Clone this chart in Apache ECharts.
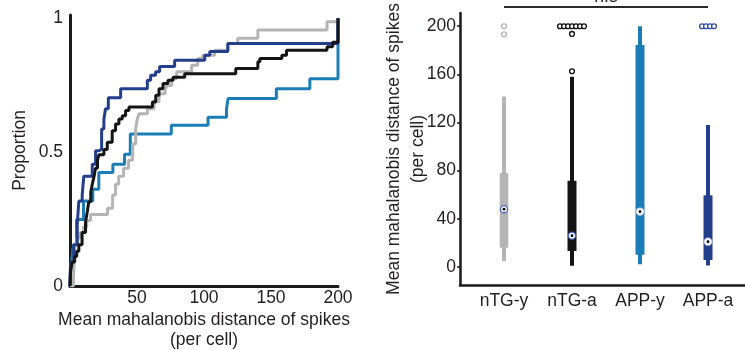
<!DOCTYPE html>
<html>
<head>
<meta charset="utf-8">
<script src="https://cdn.jsdelivr.net/npm/echarts@6/dist/echarts.min.js"></script>
<style>html,body{margin:0;padding:0;background:#fff;}#c{width:745px;height:350px;}</style>
</head>
<body>
<div id="c"></div>
<script>
// ---------- Left panel: cumulative distributions ----------
const nTGy_x = [0,2.6,3,3.5,5,7.5,10,12.5,15.3,28,31.8,34,36.3,40,43.7,46.7,49,50.2,51.5,57.7,62.7,66.4,67,70.9,72.1,75.9,79.6,90.8,95.3,99.1,108,117.8,125.2,140.2,191.8,200];
const nTGy_p = [0,0.03,0.08,0.154,0.18,0.2,0.22,0.245,0.267,0.29,0.34,0.38,0.41,0.44,0.47,0.53,0.586,0.624,0.643,0.662,0.688,0.7,0.718,0.73,0.749,0.774,0.8,0.824,0.85,0.862,0.88,0.906,0.925,0.956,0.987,1];
const nTGa_x = [0,0.3,1.6,3.5,5,6.6,9,11.6,13,14,15.5,16.6,18,19,20.5,21.5,25.3,27.8,31.5,34,36.5,39,41.5,44,61.5,64,66.4,69.4,73.1,76.9,85.6,123.7,140.2,141.7,158.1,161.6,191.8,196,200];
const nTGa_p = [0,0.05,0.09,0.11,0.13,0.154,0.2,0.24,0.28,0.315,0.35,0.38,0.41,0.44,0.47,0.49,0.51,0.537,0.58,0.605,0.624,0.636,0.655,0.668,0.687,0.712,0.737,0.756,0.768,0.78,0.793,0.812,0.837,0.85,0.862,0.88,0.893,0.91,1];
const APPy_x = [0,0.4,1.2,2.6,4.9,10.1,17,21.5,32,40.7,45,75.6,103,116.8,118,154,179,200];
const APPy_p = [0,0.05,0.09,0.154,0.248,0.317,0.361,0.424,0.455,0.492,0.568,0.6,0.63,0.662,0.7,0.737,0.774,1];
const APPa_x = [0,0.4,2.8,5.4,6.6,9.1,10.3,16.6,19.1,21.5,23.6,25.3,26.5,28.6,37.8,57.7,60.2,63.9,66.9,78.1,100.6,104.3,117.8,200];
const APPa_p = [0,0.09,0.154,0.23,0.317,0.34,0.41,0.455,0.505,0.51,0.586,0.624,0.662,0.703,0.737,0.768,0.787,0.8,0.82,0.843,0.862,0.876,0.906,1];
const leftXTicks = [50,100,150,200];
const leftYTicks = [0,0.5,1];

// ---------- Right panel: box plots ----------
const categories = ['nTG-y','nTG-a','APP-y','APP-a'];
const whiskerLow  = [5, 1, 2.2, 1.1];
const q1          = [16, 13.3, 10.2, 5.8];
const median      = [48, 26, 46, 21];
const q3          = [78, 71.6, 184.5, 59.5];
const whiskerHigh = [141.6, 158, 200, 118];
const outliers_nTGy = [200, 193.3];
const outliers_nTGa = [200,200,200,200,200,200,200, 193.6, 162.6];
const outliers_APPy = [];
const outliers_APPa = [200,200,200,200];
const rightYTicks = [0,40,80,120,160,200];
const sigLabel = 'n.s';

const colors = ['#b4b4b4', '#141414', '#1a7db5', '#233f8c'];
const outlierColors = ['#b4b4b4', '#141414', '#1a7db5', '#3550a8'];
const ringColors = ['#4c68c4', '#4c68c4', '#d2d5ea', '#d2d5ea'];
const FONT = 'Liberation Sans, Arial, sans-serif';
const FS = 17.5;
const TXT = '#231f20';
const AX = '#1a1a1a';

const zip = (xs, ps) => xs.map((x, i) => [x, ps[i]]);

const boxData = categories.map((c, i) => [i, whiskerLow[i], q1[i], median[i], q3[i], whiskerHigh[i]]);
const outlierGroups = [outliers_nTGy, outliers_nTGa, outliers_APPy, outliers_APPa];
const outlierData = [];
outlierGroups.forEach((arr, gi) => {
  const counts = {};
  arr.forEach(v => { counts[v] = (counts[v] || 0) + 1; });
  const seen = {};
  arr.forEach(v => {
    const rank = seen[v] || 0; seen[v] = rank + 1;
    outlierData.push([gi, v, rank, counts[v]]);
  });
});

const chart = echarts.init(document.getElementById('c'), null, {renderer: 'canvas'});

const lineSeries = (name, xs, ps, color) => ({
  name, type: 'line', xAxisIndex: 0, yAxisIndex: 0, step: 'end', showSymbol: false, symbol: 'none',
  data: zip(xs, ps), lineStyle: {color, width: 3}, itemStyle: {color}, animation: false
});

const option = {
  animation: false,
  textStyle: {fontFamily: FONT},
  grid: [
    {left: 70, top: 15, width: 268, height: 271, outerBoundsMode: 'none', containLabel: false},
    {left: 460, top: 13, width: 285, height: 272, outerBoundsMode: 'none', containLabel: false}
  ],
  xAxis: [
    {
      gridIndex: 0, type: 'value', min: 0, max: 200,
      axisLine: {show: true, onZero: false, lineStyle: {color: AX, width: 3}},
      axisTick: {show: false}, splitLine: {show: false},
      axisLabel: {customValues: leftXTicks, color: TXT, fontSize: FS, fontFamily: FONT, margin: 3},
      name: 'Mean mahalanobis distance of spikes\n(per cell)', nameLocation: 'middle', nameGap: 24,
      nameMoveOverlap: false,
      nameTextStyle: {color: TXT, fontSize: FS, fontFamily: FONT, lineHeight: 20}
    },
    {
      gridIndex: 1, type: 'value', min: -0.647, max: 3.544,
      axisLine: {show: true, onZero: false, lineStyle: {color: AX, width: 2.5}},
      axisTick: {show: false}, splitLine: {show: false},
      axisLabel: {customValues: [0,1,2,3], formatter: v => categories[Math.round(v)] || '', color: TXT, fontSize: FS, fontFamily: FONT, margin: 7}
    }
  ],
  yAxis: [
    {
      gridIndex: 0, type: 'value', min: 0, max: 1.012,
      axisLine: {show: true, onZero: false, lineStyle: {color: AX, width: 3}},
      axisTick: {show: false}, splitLine: {show: false},
      axisLabel: {customValues: leftYTicks, formatter: v => String(v), color: TXT, fontSize: FS, fontFamily: FONT, margin: 7},
      name: 'Proportion', nameLocation: 'middle', nameGap: 41, nameMoveOverlap: false,
      nameTextStyle: {color: TXT, fontSize: FS, fontFamily: FONT}
    },
    {
      gridIndex: 1, type: 'value', min: -15, max: 211,
      axisLine: {show: true, onZero: false, lineStyle: {color: AX, width: 2.5}},
      axisTick: {show: true, customValues: rightYTicks, length: 3, lineStyle: {color: AX, width: 1.5}},
      splitLine: {show: false},
      axisLabel: {customValues: rightYTicks, color: TXT, fontSize: FS, fontFamily: FONT, margin: 4},
      name: 'Mean mahalanobis distance of spikes\n(per cell)', nameLocation: 'middle', nameGap: 30,
      nameMoveOverlap: false,
      nameTextStyle: {color: TXT, fontSize: FS, fontFamily: FONT, lineHeight: 24}
    }
  ],
  series: [
    lineSeries('APP-y', APPy_x, APPy_p, colors[2]),
    lineSeries('nTG-y', nTGy_x, nTGy_p, colors[0]),
    lineSeries('APP-a', APPa_x, APPa_p, colors[3]),
    lineSeries('nTG-a', nTGa_x, nTGa_p, colors[1]),
    {
      type: 'custom', xAxisIndex: 1, yAxisIndex: 1, data: boxData, clip: false,
      renderItem(params, api) {
        const i = api.value(0);
        const lo = api.coord([i, api.value(1)]);
        const b1 = api.coord([i, api.value(2)]);
        const md = api.coord([i, api.value(3)]);
        const b3 = api.coord([i, api.value(4)]);
        const hi = api.coord([i, api.value(5)]);
        const c = colors[params.dataIndex];
        const bw = params.dataIndex === 0 ? 8.5 : 9;
        return {type: 'group', children: [
          {type: 'rect', shape: {x: lo[0] - 2, y: hi[1], width: 4, height: lo[1] - hi[1]}, style: {fill: c}},
          {type: 'rect', shape: {x: lo[0] - bw / 2, y: b3[1], width: bw, height: b1[1] - b3[1]}, style: {fill: c}},
          {type: 'circle', shape: {cx: md[0], cy: md[1], r: 4.2}, style: {fill: ringColors[params.dataIndex]}},
          {type: 'circle', shape: {cx: md[0], cy: md[1], r: 2.9}, style: {fill: '#ffffff'}},
          {type: 'circle', shape: {cx: md[0], cy: md[1], r: 1.4}, style: {fill: '#000000'}}
        ]};
      }
    },
    {
      type: 'custom', xAxisIndex: 1, yAxisIndex: 1, data: outlierData, clip: false,
      renderItem(params, api) {
        const g = api.value(0);
        const p = api.coord([g, api.value(1)]);
        const rank = api.value(2), count = api.value(3);
        const dx = (rank - (count - 1) / 2) * 4;
        return {type: 'circle', shape: {cx: p[0] + dx, cy: p[1], r: 2.4},
          style: {fill: '#ffffff', stroke: outlierColors[g], lineWidth: 1.4}};
      }
    }
  ]
};
chart.setOption(option);

// significance bracket across the four groups, positioned through the axis scales
const a = chart.convertToPixel({xAxisIndex: 1, yAxisIndex: 1}, [0, 216]);
const b = chart.convertToPixel({xAxisIndex: 1, yAxisIndex: 1}, [categories.length - 1, 216]);
chart.setOption({
  graphic: [
    {type: 'line', shape: {x1: a[0], y1: a[1], x2: b[0], y2: b[1]}, style: {stroke: '#2a2a2a', lineWidth: 2}},
    {type: 'text', x: (a[0] + b[0]) / 2, y: a[1] - 1,
      style: {text: sigLabel, fill: TXT, font: FS + 'px ' + FONT, textAlign: 'center', textVerticalAlign: 'bottom'}}
  ]
});
</script>
</body>
</html>
